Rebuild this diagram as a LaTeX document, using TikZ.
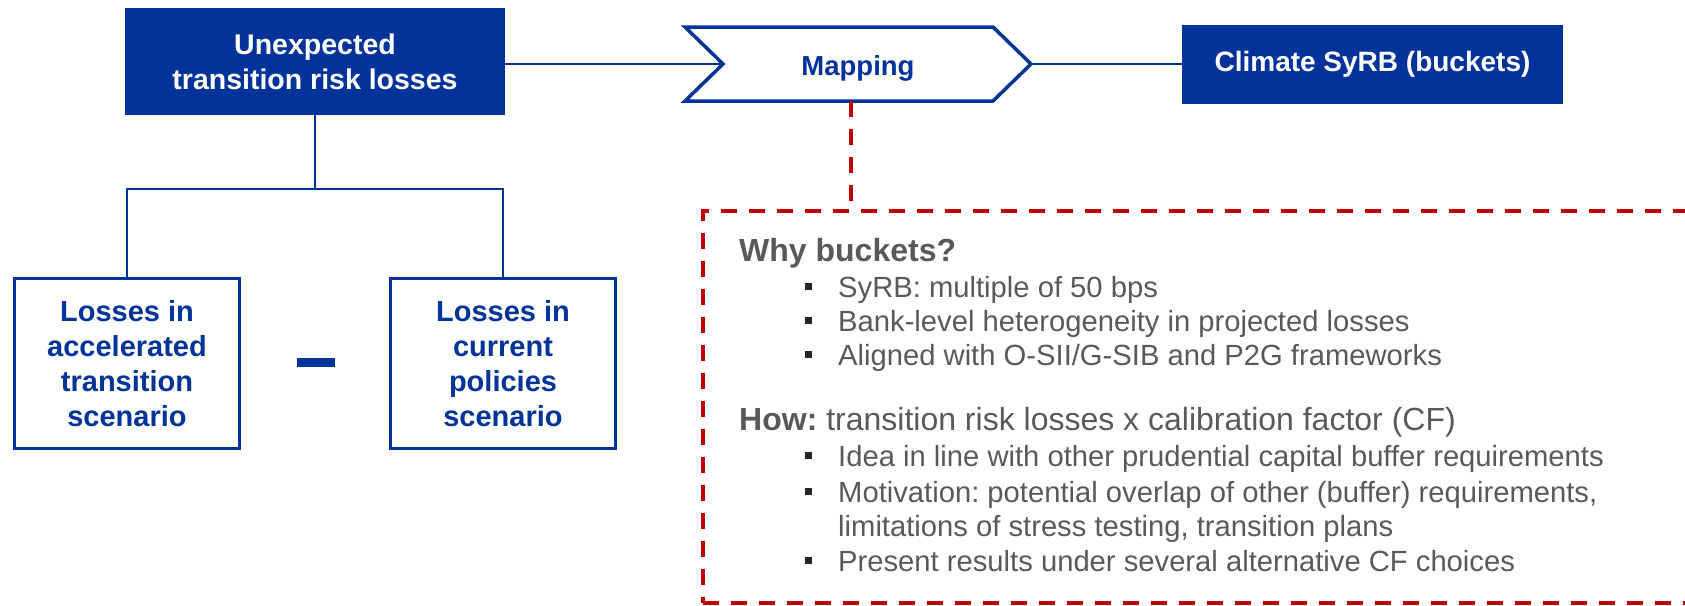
\documentclass[tikz,border=0pt]{standalone}
\usepackage{fontspec}
\setmainfont{Liberation Sans}
\frenchspacing
\definecolor{ecbblue}{RGB}{0,51,153}
\definecolor{txtgray}{RGB}{89,89,89}
\definecolor{bulletgray}{RGB}{38,38,38}
\definecolor{dred}{RGB}{192,0,0}
\begin{document}
\begin{tikzpicture}[x=1pt,y=-1pt,
 fillbox/.style={rectangle, fill=ecbblue, text=white, font=\bfseries\fontsize{28.5}{35}\selectfont, align=center, inner sep=0},
 linebox/.style={rectangle, draw=ecbblue, line width=3.3pt, text=ecbblue, font=\bfseries\fontsize{29}{35}\selectfont, align=center, minimum width=225pt, minimum height=170pt, inner sep=0},
 conn/.style={draw=ecbblue, line width=2pt},
 reddash/.style={draw=dred, line width=4pt, dash pattern=on 16pt off 12pt},
 body/.style={anchor=base west, inner sep=0, text=txtgray, font=\frenchspacing\fontsize{29.2}{35}\selectfont},
 head/.style={anchor=base west, inner sep=0, text=txtgray, font=\frenchspacing\fontsize{32}{38}\selectfont},
 bsq/.style={rectangle, fill=bulletgray, minimum size=7pt, inner sep=0},
]
\useasboundingbox (0,0) rectangle (1685,605);

% top row
\node[fillbox, minimum width=380pt, minimum height=107pt] (top) at (315,61.5) {Unexpected\\transition risk losses};
\node[fillbox, minimum width=381pt, minimum height=79pt, font=\bfseries\fontsize{28}{34}\selectfont] (syrb) at (1372.5,64.5) {Climate SyRB (buckets)};

\draw[draw=ecbblue, line width=3.5pt, line join=miter, fill=white] (685,27) -- (993,27) -- (1031,64) -- (993,101) -- (685,101) -- (723,64) -- cycle;
\node[anchor=base, inner sep=0, text=ecbblue, font=\bfseries\fontsize{27.5}{33}\selectfont] (map) at (858,75) {Mapping};
\coordinate (mapnotch) at (723,64);
\coordinate (maptip) at (1031,64);
\coordinate (mapbot) at (851,101);

\draw[conn] (top.east |- mapnotch) -- (mapnotch);
\draw[conn] (maptip) -- (syrb.west |- maptip);

% tree
\node[linebox] (lbox) at (127,363.5) {Losses in\\accelerated\\transition\\scenario};
\node[linebox] (rbox) at (503,363.5) {Losses in\\current\\policies\\scenario};
\node[rectangle, fill=ecbblue, minimum width=38pt, minimum height=9pt, inner sep=0] (minus) at (316,362) {};
\coordinate (junction) at (315,189);
\draw[conn] (top.south) -- (junction);
\draw[conn] (lbox.north) |- (junction) -| (rbox.north);

% notes box
\node[rectangle, reddash, outer sep=0, inner sep=0, minimum width=997pt, minimum height=392pt] (notes) at (1201.5,407) {};
\draw[reddash] (mapbot) -- (mapbot |- notes.north);

\node[head] (why) at (739,261) {\bfseries Why buckets?};
\node[bsq] (b1) at (808,286) {};
\node[body] (w1) at (838,297) {SyRB: multiple of 50 bps};
\node[bsq] (b2) at (808,320) {};
\node[body] (w2) at (838,331) {Bank-level heterogeneity in projected losses};
\node[bsq] (b3) at (808,354) {};
\node[body] (w3) at (838,365) {Aligned with O-SII/G-SIB and P2G frameworks};

\node[head] (how) at (739,430) {\textbf{How:} transition risk losses x calibration factor (CF)};
\node[bsq] (b4) at (808,455) {};
\node[body] (h1) at (838,466) {Idea in line with other prudential capital buffer requirements};
\node[bsq] (b5) at (808,491) {};
\node[body] (h2) at (838,502) {Motivation: potential overlap of other (buffer) requirements,};
\node[body] (h2b) at (838,536) {limitations of stress testing, transition plans};
\node[bsq] (b6) at (808,560) {};
\node[body] (h3) at (838,571) {Present results under several alternative CF choices};
\end{tikzpicture}
\end{document}
